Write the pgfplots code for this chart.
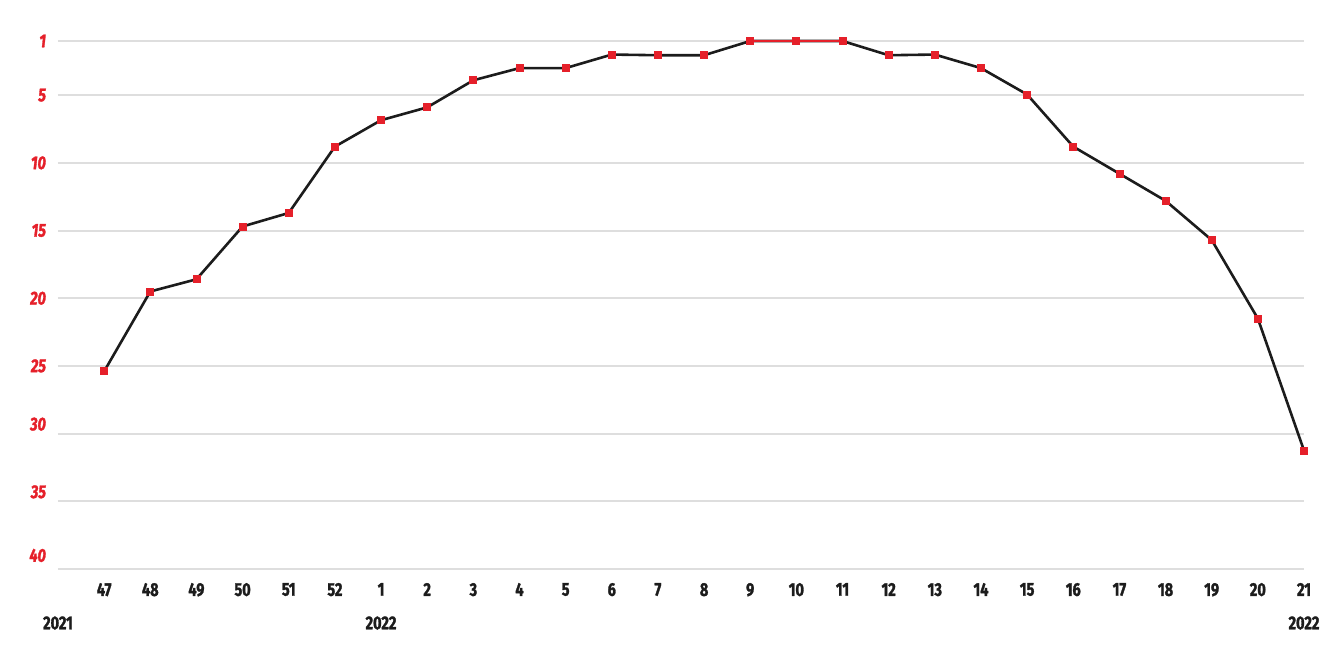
\documentclass[border=0pt]{standalone}
\usepackage{pgfplots}
\pgfplotsset{compat=1.18}
\usepackage{pgfplotstable}
\usepackage{fontspec}
\setmainfont{Fira Sans}[FakeStretch=0.78, BoldFeatures={FakeBold=1.6}, BoldItalicFeatures={FakeBold=1.6}]
\definecolor{cred}{HTML}{E5202A}
\definecolor{cgrid}{HTML}{DEDEDE}
\definecolor{cblack}{HTML}{1C1C1C}
\pgfplotstableread{
idx rank
0 25.4
1 19.5
2 18.6
3 14.7
4 13.7
5 8.8
6 6.85
7 5.9
8 3.9
9 3.0
10 3.0
11 2.0
12 2.05
13 2.05
14 1.0
15 1.0
16 1.0
17 2.05
18 2.0
19 3.0
20 4.95
21 8.8
22 10.8
23 12.8
24 15.7
25 21.5
26 31.25
}\ranks
\pgfplotstableread{
idx rank
14 1.0
15 1.0
16 1.0
}\top
\begin{document}
\begin{tikzpicture}
\path[use as bounding box] (-29pt,-48.5pt) rectangle (637.5pt,284.5pt);
\begin{axis}[
  scale only axis, width=623pt, height=264pt,
  xmin=-1, xmax=26, ymin=1, ymax=40, y dir=reverse,
  clip=false,
  axis line style={draw=none},
  tick style={draw=none},
  ytick={1,5,10,15,20,25,30,35,40},
  yticklabels={1,5,10,15,20,25,,,},
  extra y ticks={29.3,34.3,39.0},
  extra y tick labels={30,35,40},
  extra y tick style={grid=none},
  ymajorgrids, major grid style={cgrid, line width=1pt},
  xtick={0,...,26},
  xticklabels={47,48,49,50,51,52,1,2,3,4,5,6,7,8,9,10,11,12,13,14,15,16,17,18,19,20,21},
  xticklabel style={font=\fontsize{9.3}{10}\selectfont\bfseries, text=cblack, yshift=-3.5pt},
  yticklabel style={font=\fontsize{9.3}{10}\selectfont\bfseries\itshape, text=cred, anchor=east, xshift=-2.5pt},
  /pgf/number format/assume math mode=true,
]
\addplot[cblack, line width=1.3pt, no marks] table[x=idx, y=rank] {\ranks};
\addplot[cred, line width=1.4pt, no marks] table[x=idx, y=rank] {\top};
\addplot[only marks, mark=square*, mark size=1.75pt, mark options={fill=cred, draw=cred}] table[x=idx, y=rank] {\ranks};
\node[font=\fontsize{9.3}{10}\selectfont\bfseries, text=cblack] at (axis cs:-1,40) [yshift=-27pt] {2021};
\node[font=\fontsize{9.3}{10}\selectfont\bfseries, text=cblack] at (axis cs:6,40) [yshift=-27pt] {2022};
\node[font=\fontsize{9.3}{10}\selectfont\bfseries, text=cblack] at (axis cs:26,40) [yshift=-27pt] {2022};
\end{axis}
\end{tikzpicture}
\end{document}
